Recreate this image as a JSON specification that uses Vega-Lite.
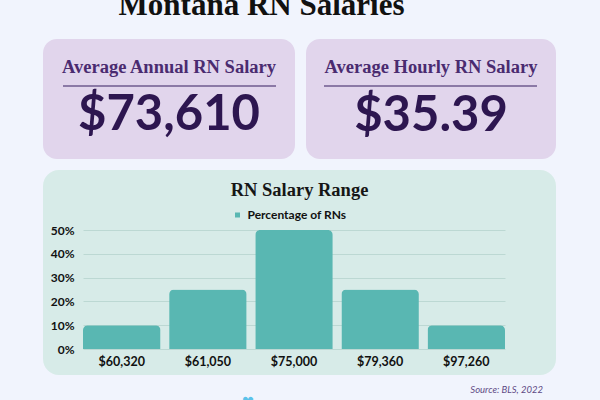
{
  "$schema": "https://vega.github.io/schema/vega-lite/v6.json",
  "autosize": {"type": "none"},
  "padding": {"left": 43, "top": 39, "right": 557, "bottom": 361},
  "background": "#f1f4fd",
  "title": {
    "text": "Montana RN Salaries",
    "anchor": "middle",
    "frame": "bounds",
    "font": "Liberation Serif",
    "fontSize": 31,
    "fontWeight": "bold",
    "color": "#111111",
    "baseline": "alphabetic",
    "offset": -7,
    "dx": -38
  },
  "spacing": 11,
  "resolve": {"legend": {"color": "independent"}},
  "vconcat": [
    {
      "spacing": 11,
      "hconcat": [
        {
          "width": 252,
          "height": 120,
          "view": {"fill": "#e1d5ec", "cornerRadius": 14, "stroke": null},
          "data": {"values": [{"heading": "Average Annual RN Salary", "value": "$73,610"}]},
          "layer": [
            {
              "mark": {"type": "text", "font": "Liberation Serif", "fontWeight": "bold", "fontSize": 18.5, "fill": "#4a2b70", "baseline": "alphabetic", "dy": -26},
              "encoding": {"text": {"field": "heading"}}
            },
            {
              "mark": {"type": "rule", "stroke": "#6e5a8f", "strokeWidth": 1.5},
              "encoding": {"x": {"value": 20}, "x2": {"value": 233}, "y": {"value": 47}}
            },
            {
              "mark": {"type": "text", "font": "Lato", "fontWeight": "bold", "fontSize": 49, "fill": "#2d1650", "baseline": "alphabetic", "dy": 31},
              "encoding": {"text": {"field": "value"}}
            }
          ]
        },
        {
          "width": 250,
          "height": 120,
          "view": {"fill": "#e1d5ec", "cornerRadius": 14, "stroke": null},
          "data": {"values": [{"heading": "Average Hourly RN Salary", "value": "$35.39"}]},
          "layer": [
            {
              "mark": {"type": "text", "font": "Liberation Serif", "fontWeight": "bold", "fontSize": 18.5, "fill": "#4a2b70", "baseline": "alphabetic", "dy": -26},
              "encoding": {"text": {"field": "heading"}}
            },
            {
              "mark": {"type": "rule", "stroke": "#6e5a8f", "strokeWidth": 1.5},
              "encoding": {"x": {"value": 18}, "x2": {"value": 231}, "y": {"value": 47}}
            },
            {
              "mark": {"type": "text", "font": "Lato", "fontWeight": "bold", "fontSize": 49, "fill": "#2d1650", "baseline": "alphabetic", "dy": 32},
              "encoding": {"text": {"field": "value"}}
            }
          ]
        }
      ]
    },
    {
      "width": 513,
      "height": 205,
      "view": {"fill": "#d7ebe8", "cornerRadius": 16, "stroke": null},
      "layer": [
        {
          "data": {"values": [
            {"salary": "$60,320", "pct": 0.10, "series": "Percentage of RNs"},
            {"salary": "$61,050", "pct": 0.25, "series": "Percentage of RNs"},
            {"salary": "$75,000", "pct": 0.50, "series": "Percentage of RNs"},
            {"salary": "$79,360", "pct": 0.25, "series": "Percentage of RNs"},
            {"salary": "$97,260", "pct": 0.10, "series": "Percentage of RNs"}
          ]},
          "mark": {"type": "bar", "cornerRadiusTopLeft": 5, "cornerRadiusTopRight": 5},
          "encoding": {
            "x": {
              "field": "salary", "type": "nominal", "sort": null,
              "scale": {"range": [40, 462], "paddingInner": 0.1, "paddingOuter": 0},
              "axis": {"title": null, "offset": -26, "labelPadding": 6, "labelAngle": 0, "grid": false, "domain": false, "ticks": false,
                       "labelFont": "Lato", "labelFontWeight": "bold", "labelFontSize": 12.5, "labelColor": "#111111"}
            },
            "y": {
              "field": "pct", "type": "quantitative",
              "scale": {"domain": [0, 0.5], "range": [179, 60], "nice": false},
              "axis": {"title": null, "offset": -40, "labelPadding": 9, "values": [0, 0.1, 0.2, 0.3, 0.4, 0.5], "format": ".0%",
                       "grid": true, "gridColor": "#bcd8d3", "gridWidth": 1, "domain": false, "ticks": false,
                       "labelFont": "Lato", "labelFontWeight": "bold", "labelFontSize": 12, "labelColor": "#111111"}
            },
            "color": {
              "field": "series", "type": "nominal",
              "scale": {"range": ["#59b7b2"]},
              "legend": {"orient": "none", "legendX": 188.5, "legendY": 39, "direction": "horizontal", "title": null,
                         "symbolType": "square", "symbolSize": 25, "labelFont": "Lato", "labelFontWeight": "bold",
                         "labelFontSize": 12, "labelColor": "#111111", "labelOffset": 4, "padding": 0}
            }
          }
        },
        {
          "data": {"values": [{"t": "RN Salary Range"}]},
          "mark": {"type": "text", "font": "Liberation Serif", "fontWeight": "bold", "fontSize": 18.5, "fill": "#161616", "baseline": "alphabetic", "dy": -76.5},
          "encoding": {"text": {"field": "t"}}
        },
        {
          "data": {"values": [{"s": "Source: BLS, 2022"}]},
          "mark": {"type": "text", "font": "Lato", "fontStyle": "italic", "fontSize": 9.5, "fill": "#5e4a85", "align": "right", "baseline": "alphabetic", "dx": 243.5, "dy": 120.5},
          "encoding": {"text": {"field": "s"}}
        },
        {
          "data": {"values": [{"h": "♥"}]},
          "mark": {"type": "text", "font": "DejaVu Sans", "fontSize": 14, "fill": "#5bc2ea", "align": "center", "baseline": "alphabetic", "dx": -51.5, "dy": 134.5},
          "encoding": {"text": {"field": "h"}}
        }
      ]
    }
  ]
}
